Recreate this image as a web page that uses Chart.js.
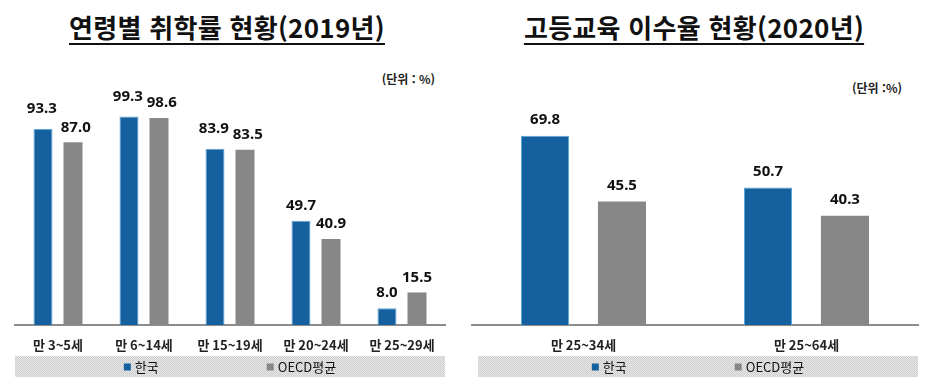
<!DOCTYPE html>
<html lang="ko">
<head>
<meta charset="utf-8">
<script src="https://cdn.jsdelivr.net/npm/chart.js@4.4.1/dist/chart.umd.min.js"></script>
<style>
  body { margin: 0; width: 936px; height: 390px; background: #fff; position: relative; overflow: hidden; font-family: "Noto Sans CJK KR", sans-serif; }
  .panel { position: absolute; top: 0; width: 468px; height: 390px; }
  .panel canvas { position: absolute; left: 0; top: 0; }
  .title { position: absolute; top: 10px; text-align: center; line-height: 34px; white-space: nowrap; }
  .title span { font-size: 26px; font-weight: 700; color: #111; text-decoration: underline; text-decoration-thickness: 2px; text-underline-offset: 5px; letter-spacing: 0.3px; }
  .unit { position: absolute; font-size: 12px; font-weight: 700; color: #222; line-height: 16px; }
</style>
</head>
<body>
<div class="panel" style="left:0">
  <div class="title" style="left:0;width:454px"><span>연령별 취학률 현황(2019년)</span></div>
  <div class="unit" style="right:33px;top:71px">(단위 : %)</div>
  <canvas id="enrolChart" width="468" height="390"></canvas>
</div>
<div class="panel" style="left:468px">
  <div class="title" style="left:0;width:452px"><span>고등교육 이수율 현황(2020년)</span></div>
  <div class="unit" style="right:34px;top:80px">(단위 :%)</div>
  <canvas id="eduChart" width="468" height="390"></canvas>
</div>
<script>
// 연령별 취학률 (2019)
const ageLabels = ["만 3~5세", "만 6~14세", "만 15~19세", "만 20~24세", "만 25~29세"];
const enrolKorea = [93.3, 99.3, 83.9, 49.7, 8.0];
const enrolOecd = [87.0, 98.6, 83.5, 40.9, 15.5];

// 고등교육 이수율 (2020)
const eduLabels = ["만 25~34세", "만 25~64세"];
const eduKorea = [69.8, 50.7];
const eduOecd = [45.5, 40.3];

const seriesNames = ["한국", "OECD평균"];
const BLUE = "#15609e";
const GRAY = "#878787";

// dotted gray texture for the legend strip
const patternCanvas = document.createElement("canvas");
patternCanvas.width = 2;
patternCanvas.height = 2;
const pg = patternCanvas.getContext("2d");
pg.fillStyle = "#e8e8e8";
pg.fillRect(0, 0, 2, 2);
pg.fillStyle = "#cdcdcd";
pg.fillRect(0, 0, 1, 1);
pg.fillRect(1, 1, 1, 1);

// value above each bar; when the pair of labels would collide,
// spread them sideways and lift the higher one a little
const valueLabels = {
  id: "valueLabels",
  afterDatasetsDraw(chart, args, o) {
    const ctx = chart.ctx;
    ctx.save();
    ctx.font = "bold 15px 'Noto Sans', sans-serif";
    ctx.fillStyle = "#111";
    ctx.textAlign = "center";
    ctx.textBaseline = "middle";
    const metaA = chart.getDatasetMeta(0).data;
    const metaB = chart.getDatasetMeta(1).data;
    const dataA = chart.data.datasets[0].data;
    const dataB = chart.data.datasets[1].data;
    metaA.forEach((barA, j) => {
      const barB = metaB[j];
      const tA = dataA[j].toFixed(1), tB = dataB[j].toFixed(1);
      let xA = barA.x, xB = barB.x;
      let yA = barA.y - o.offset, yB = barB.y - o.offset;
      const half = (ctx.measureText(tA).width + ctx.measureText(tB).width) / 2;
      const need = half + 4 - (xB - xA);
      if (need > 0 && Math.abs(yA - yB) < 14) {
        xA -= need * 0.3;
        xB += need * 0.7;
        if (yA <= yB) yA -= 5; else yB -= 5;
      }
      ctx.fillText(tA, xA, yA);
      ctx.fillText(tB, xB, yB);
    });
    ctx.restore();
  }
};

const bandLegend = {
  id: "bandLegend",
  afterDraw(chart, args, o) {
    const { ctx, chartArea: a } = chart;
    const top = a.bottom + o.offset;
    const left = a.left + o.inset;
    ctx.save();
    ctx.fillStyle = ctx.createPattern(patternCanvas, "repeat");
    ctx.fillRect(left, top, a.right - left, o.height);

    ctx.font = "13px 'Noto Sans CJK KR', sans-serif";
    ctx.textBaseline = "middle";
    const items = chart.data.datasets.map(ds => ({
      text: ds.label,
      color: ds.backgroundColor,
      w: 7 + 4 + ctx.measureText(ds.label).width
    }));
    const total = items.reduce((s, it) => s + it.w, 0) + o.gap * (items.length - 1);
    let x = (left + a.right) / 2 - total / 2;
    const cy = top + o.height / 2 + 1;
    items.forEach(it => {
      ctx.fillStyle = it.color;
      ctx.fillRect(x, cy - 4, 7, 7);
      ctx.fillStyle = "#111";
      ctx.fillText(it.text, x + 11, cy);
      x += it.w + o.gap;
    });
    ctx.restore();
  }
};

function makeChart(id, labels, korea, oecd, cfg) {
  return new Chart(document.getElementById(id), {
    type: "bar",
    data: {
      labels: labels,
      datasets: [
        {
          label: seriesNames[0],
          data: korea,
          backgroundColor: BLUE,
          borderColor: "#5aa7d8",
          borderWidth: 1,
          categoryPercentage: cfg.catPct,
          barPercentage: cfg.barPct
        },
        {
          label: seriesNames[1],
          data: oecd,
          backgroundColor: GRAY,
          categoryPercentage: cfg.catPct,
          barPercentage: cfg.barPct
        }
      ]
    },
    options: {
      responsive: false,
      animation: false,
      layout: { padding: { left: cfg.left, right: cfg.right, top: cfg.top, bottom: 0 } },
      scales: {
        x: {
          grid: { display: false, drawTicks: false },
          border: { display: true, color: "#8c8c8c", width: 2 },
          ticks: {
            color: "#222",
            font: { family: "'Noto Sans CJK KR', sans-serif", size: 13, weight: "bold" },
            padding: 12,
            maxRotation: 0,
            autoSkip: false
          },
          afterFit: s => { s.height = 65; }
        },
        y: { display: false, min: 0, max: cfg.yMax }
      },
      plugins: {
        legend: { display: false },
        tooltip: { enabled: false },
        valueLabels: { offset: cfg.labelOffset },
        bandLegend: { offset: 31, height: 21, gap: 108, inset: cfg.inset }
      }
    },
    plugins: [valueLabels, bandLegend]
  });
}

makeChart("enrolChart", ageLabels, enrolKorea, enrolOecd, {
  left: 15, right: 23, top: 115, yMax: 100,
  catPct: 0.698, barPct: 0.633, labelOffset: 15, inset: 0
});

makeChart("eduChart", eduLabels, eduKorea, eduOecd, {
  left: 4, right: 18, top: 108, yMax: 80,
  catPct: 0.69, barPct: 0.625, labelOffset: 16, inset: 6
});
</script>
</body>
</html>
